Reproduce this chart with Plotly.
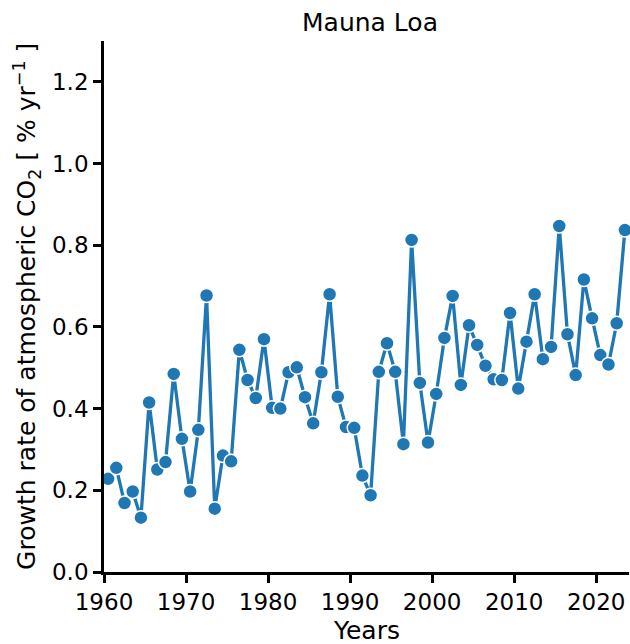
import plotly.graph_objects as go

# Annual growth rate of atmospheric CO2 at Mauna Loa (% per year), one value per year
years = list(range(1960, 2024))
growth_rate = [
    0.228, 0.255, 0.169, 0.197, 0.133, 0.415, 0.251, 0.269, 0.485, 0.326,
    0.197, 0.348, 0.677, 0.155, 0.285, 0.271, 0.544, 0.470, 0.426, 0.570,
    0.402, 0.400, 0.489, 0.501, 0.428, 0.364, 0.489, 0.680, 0.429, 0.355,
    0.353, 0.236, 0.188, 0.490, 0.560, 0.490, 0.313, 0.813, 0.463, 0.317,
    0.436, 0.573, 0.676, 0.458, 0.604, 0.556, 0.505, 0.472, 0.470, 0.634,
    0.449, 0.564, 0.680, 0.521, 0.551, 0.847, 0.582, 0.482, 0.716, 0.621,
    0.531, 0.508, 0.609, 0.837,
]
x_ticks = [1960, 1970, 1980, 1990, 2000, 2010, 2020]
y_ticks = [0.0, 0.2, 0.4, 0.6, 0.8, 1.0, 1.2]

# plot each annual value at mid-year
mid_year = [y + 0.5 for y in years]

FONT = "DejaVu Sans"
BLUE = "#1f77b4"

fig = go.Figure(
    go.Scatter(
        x=mid_year,
        y=growth_rate,
        mode="lines+markers",
        line=dict(color=BLUE, width=3.3),
        marker=dict(size=14, color=BLUE, line=dict(color="white", width=1.5)),
        cliponaxis=False,
        showlegend=False,
    )
)

axis_common = dict(
    showline=True,
    linecolor="black",
    linewidth=2.7,
    ticks="outside",
    ticklen=8,
    tickwidth=2.5,
    tickcolor="black",
    showgrid=False,
    zeroline=False,
    tickfont=dict(family=FONT, size=23, color="black"),
)

fig.update_layout(
    width=630,
    height=644,
    margin=dict(l=104, r=1, t=41, b=72),
    paper_bgcolor="white",
    plot_bgcolor="white",
    font=dict(family=FONT, color="black"),
    title=dict(
        text="Mauna Loa",
        x=370 / 630,
        xanchor="center",
        y=1 - 22 / 644,
        yanchor="middle",
        font=dict(family=FONT, size=25, color="black"),
    ),
    xaxis=dict(
        range=[1960, 2024],
        tickvals=x_ticks,
        **axis_common,
    ),
    yaxis=dict(
        range=[0, 1.3],
        tickvals=y_ticks,
        tickformat=".1f",
        **axis_common,
    ),
    annotations=[
        dict(
            text="Years",
            xref="paper", yref="paper",
            x=0.5, y=0,
            xanchor="center", yanchor="middle",
            yshift=-(631 - 573),
            showarrow=False,
            font=dict(family=FONT, size=25, color="black"),
        ),
        dict(
            text="Growth rate of atmospheric CO<sub>2</sub> [ % yr<sup>\u22121</sup> ]",
            xref="paper", yref="paper",
            x=0, y=0.5,
            xanchor="center", yanchor="middle",
            xshift=-(102.6 - 25),
            textangle=-90,
            showarrow=False,
            font=dict(family=FONT, size=25, color="black"),
        ),
    ],
)

fig.write_html("out.html")
